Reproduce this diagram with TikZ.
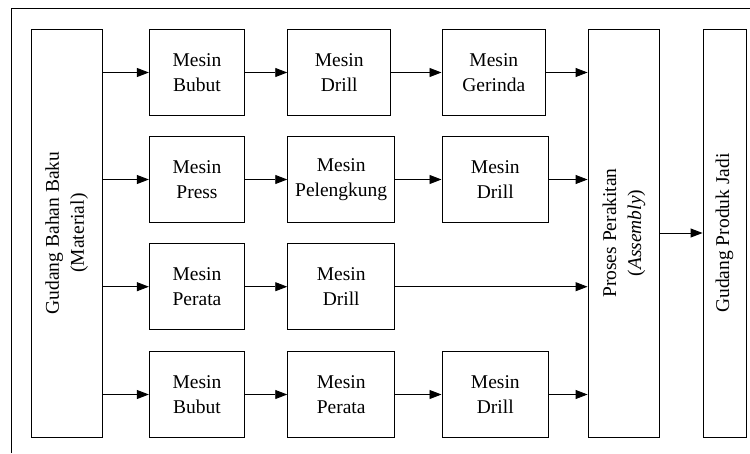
\documentclass[tikz,border=0pt]{standalone}
\usepackage{fontspec}
\setmainfont{Liberation Serif}
\usetikzlibrary{arrows.meta}
\begin{document}
\begin{tikzpicture}[x=1pt,y=-1pt,
  box/.style={draw, line width=0.9pt, inner sep=0pt, align=center,
              font=\fontsize{19.5}{25}\selectfont},
  flow/.style={-{Triangle[length=12pt,width=9pt]}, line width=0.9pt}]
\useasboundingbox (0,0) rectangle (750,453);
% frame
\draw[line width=0.9pt] (11,453) -- (11,8) -- (750,8);

% tall boxes
\node[box, minimum width=71pt, minimum height=408pt] (L) at (66.5,233)
  {\rotatebox{90}{\begin{tabular}{@{}c@{}}Gudang Bahan Baku\\(Material)\end{tabular}}};
\node[box, minimum width=71pt, minimum height=408pt] (P) at (623.5,233)
  {\rotatebox{90}{\begin{tabular}{@{}c@{}}Proses Perakitan\\(\textit{Assembly})\end{tabular}}};
\node[box, minimum width=43pt, minimum height=408pt] (G) at (724.5,233)
  {\rotatebox{90}{Gudang Produk Jadi}};

% row 1
\node[box, minimum width=95.4pt, minimum height=86pt] (r11) at (197,72.5) {Mesin\\Bubut};
\node[box, minimum width=103pt, minimum height=86pt] (r12) at (339.2,72.5) {Mesin\\Drill};
\node[box, minimum width=103.7pt, minimum height=86pt] (r13) at (493.8,72.5) {Mesin\\Gerinda};
% row 2
\node[box, minimum width=95.4pt, minimum height=86pt] (r21) at (197,179.5) {Mesin\\Press};
\node[box, minimum width=107pt, minimum height=86pt] (r22) at (341.2,179.5) {Mesin\\Pelengkung};
\node[box, minimum width=106.7pt, minimum height=86pt] (r23) at (495.3,179.5) {Mesin\\Drill};
% row 3
\node[box, minimum width=95.4pt, minimum height=86pt] (r31) at (197,286.7) {Mesin\\Perata};
\node[box, minimum width=107pt, minimum height=86pt] (r32) at (341.2,286.7) {Mesin\\Drill};
% row 4
\node[box, minimum width=95.4pt, minimum height=86pt] (r41) at (197,394.5) {Mesin\\Bubut};
\node[box, minimum width=107pt, minimum height=86pt] (r42) at (341.2,394.5) {Mesin\\Perata};
\node[box, minimum width=106.7pt, minimum height=86pt] (r43) at (495.3,394.5) {Mesin\\Drill};

% connectors
\foreach \r in {r11,r21,r31,r41}
  \draw[flow] (L.east |- \r) -- (\r.west);
\draw[flow] (r11) -- (r12);
\draw[flow] (r12) -- (r13);
\draw[flow] (r21) -- (r22);
\draw[flow] (r22) -- (r23);
\draw[flow] (r31) -- (r32);
\draw[flow] (r41) -- (r42);
\draw[flow] (r42) -- (r43);
\foreach \r in {r13,r23,r32,r43}
  \draw[flow] (\r.east) -- (P.west |- \r);
\draw[flow] (P) -- (G);
\end{tikzpicture}
\end{document}
